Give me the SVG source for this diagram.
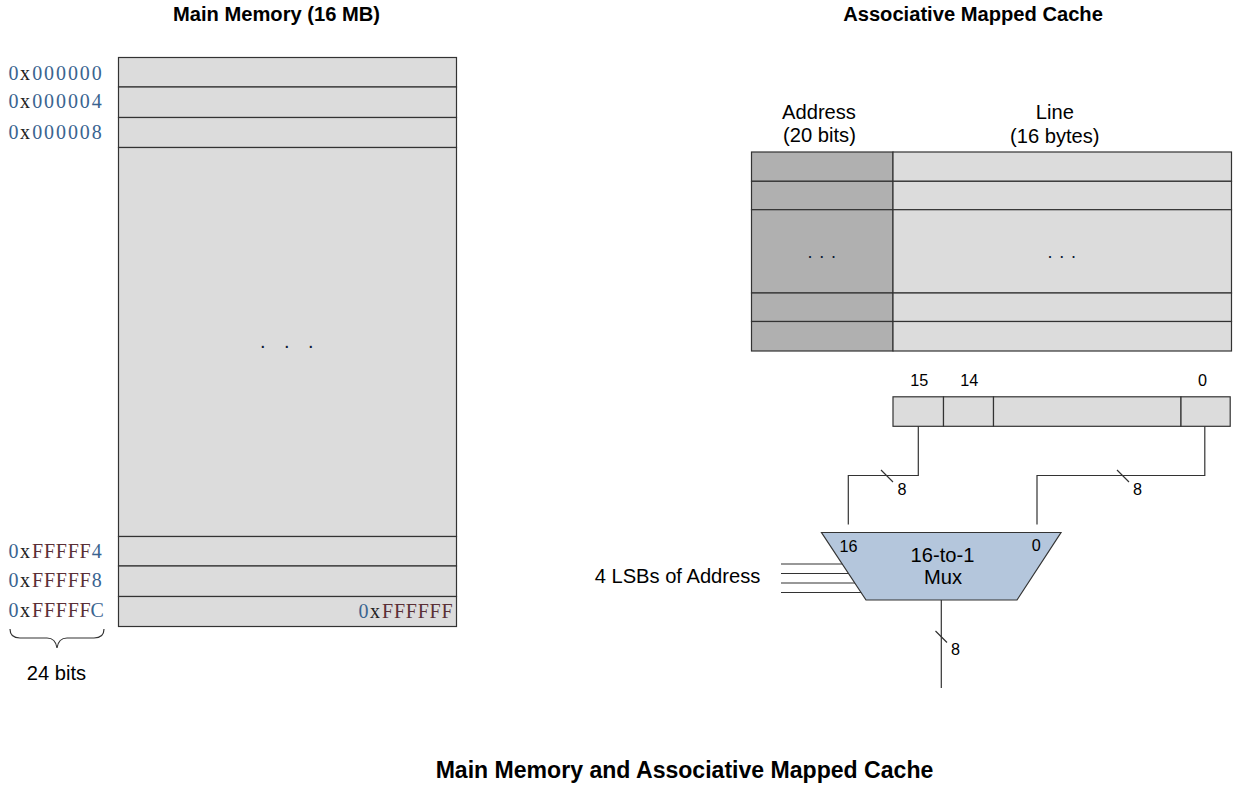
<svg xmlns="http://www.w3.org/2000/svg" width="1235" height="786" viewBox="0 0 1235 786">
<style>
text{font-family:"Liberation Sans",Arial,sans-serif;fill:#000}
.b{font-weight:700;text-anchor:middle}
.t{font-size:20.15px;text-anchor:middle}
.s{font-size:16.2px;text-anchor:middle}
.m{font-family:"Liberation Serif","Times New Roman",serif;font-size:20px;fill:#3a6490}
.f{fill:#5a2f35}
.x{fill:#222}
.dot{fill:#0a1a33}
.l{fill:#dcdcdc;stroke:#333;stroke-width:1.2}
.d{fill:#b0b0b0;stroke:#333;stroke-width:1.2}
.w{fill:none;stroke:#333;stroke-width:1.2}
</style>
<rect width="1235" height="786" fill="#fff"/>
<text class="b" x="276.500" y="21" font-size="20.15">Main Memory (16 MB)</text>
<text class="b" x="973" y="21" font-size="20.15">Associative Mapped Cache</text>
<text class="b" x="684.500" y="778" font-size="23.07">Main Memory and Associative Mapped Cache</text>
<g id="main-memory">
<rect class="l" x="118.500" y="57.500" width="338" height="29.500"/>
<rect class="l" x="118.500" y="87" width="338" height="30.500"/>
<rect class="l" x="118.500" y="117.500" width="338" height="30"/>
<rect class="l" x="118.500" y="147.500" width="338" height="389"/>
<rect class="l" x="118.500" y="536.500" width="338" height="29.500"/>
<rect class="l" x="118.500" y="566" width="338" height="30.500"/>
<rect class="l" x="118.500" y="596.500" width="338" height="30"/>
<text class="dot" x="260" y="348" font-size="20" letter-spacing="18.4">...</text>
<text class="m" y="618"><tspan x="358.400">0</tspan><tspan class="x" x="370">x</tspan><tspan class="f" x="382 393.900 405.800 417.700 429.600 441.500">FFFFFF</tspan></text>
</g>
<g id="addresses">
<text class="m" y="80"><tspan x="8.400">0</tspan><tspan class="x" x="20">x</tspan><tspan x="32.200 44.100 56 67.900 79.800 91.700">000000</tspan></text>
<text class="m" y="108"><tspan x="8.400">0</tspan><tspan class="x" x="20">x</tspan><tspan x="32.200 44.100 56 67.900 79.800 91.700">000004</tspan></text>
<text class="m" y="139"><tspan x="8.400">0</tspan><tspan class="x" x="20">x</tspan><tspan x="32.200 44.100 56 67.900 79.800 91.700">000008</tspan></text>
<text class="m" y="558"><tspan x="8.400">0</tspan><tspan class="x" x="20">x</tspan><tspan class="f" x="32 43.900 55.800 67.700 79.600">FFFFF</tspan><tspan x="91.700">4</tspan></text>
<text class="m" y="587"><tspan x="8.400">0</tspan><tspan class="x" x="20">x</tspan><tspan class="f" x="32 43.900 55.800 67.700 79.600">FFFFF</tspan><tspan x="91.700">8</tspan></text>
<text class="m" y="617"><tspan x="8.400">0</tspan><tspan class="x" x="20">x</tspan><tspan class="f" x="32 43.900 55.800 67.700 79.600">FFFFF</tspan><tspan x="90.600">C</tspan></text>
<path class="w" d="M10 629C10 635 13 638 20 638H47C53 638 56 641 57 648C58 641 61 638 67 638H94C101 638 104 635 104 629"/>
<text class="t" x="56.500" y="680">24 bits</text>
</g>
<g id="cache">
<text class="t" x="819" y="119">Address</text>
<text class="t" x="819.500" y="142">(20 bits)</text>
<text class="t" x="1054.800" y="119">Line</text>
<text class="t" x="1054.800" y="143">(16 bytes)</text>
<rect class="d" x="751.500" y="152" width="141.500" height="29.300"/>
<rect class="d" x="751.500" y="181.300" width="141.500" height="28.400"/>
<rect class="d" x="751.500" y="209.700" width="141.500" height="83.300"/>
<rect class="d" x="751.500" y="293" width="141.500" height="28.500"/>
<rect class="d" x="751.500" y="321.500" width="141.500" height="29.500"/>
<rect class="l" x="893" y="152" width="338.500" height="29.300"/>
<rect class="l" x="893" y="181.300" width="338.500" height="28.400"/>
<rect class="l" x="893" y="209.700" width="338.500" height="83.300"/>
<rect class="l" x="893" y="293" width="338.500" height="28.500"/>
<rect class="l" x="893" y="321.500" width="338.500" height="29.500"/>
<text class="dot" x="807.500" y="258" font-size="18" letter-spacing="6.7">...</text>
<text class="dot" x="1047.500" y="258" font-size="18" letter-spacing="6.7">...</text>
</g>
<g id="line-register">
<text class="s" x="919.300" y="386">15</text>
<text class="s" x="969.300" y="386">14</text>
<text class="s" x="1202.500" y="386">0</text>
<rect class="l" x="893" y="396.800" width="50.500" height="29.500"/>
<rect class="l" x="943.500" y="396.800" width="50" height="29.500"/>
<rect class="l" x="993.500" y="396.800" width="187.500" height="29.500"/>
<rect class="l" x="1181" y="396.800" width="49.200" height="29.500"/>
</g>
<g id="connectors">
<path class="w" d="M918.300 426.300V475.500H848.300V524.500"/>
<path class="w" d="M1204.800 426.300V475.500H1037V524.500"/>
<path class="w" d="M941.300 600V688"/>
<path class="w" d="M881 470L893 482M1117 470L1129 482M935.500 631L947 642.500"/>
<path class="w" d="M781 564H843M781 573.500H849M781 583H855M781 592.500H862"/>
</g>
<g id="mux">
<path d="M821.500 532.500H1061L1017 600H866Z" fill="#b4c6dc" stroke="#333" stroke-width="1.200"/>
<text class="s" x="848.500" y="552">16</text>
<text class="s" x="1036.300" y="551">0</text>
<text class="t" x="942.500" y="562">16-to-1</text>
<text class="t" x="943" y="584">Mux</text>
</g>
<g id="labels">
<text class="s" x="902" y="495">8</text>
<text class="s" x="1137.500" y="495">8</text>
<text class="s" x="955.500" y="655">8</text>
<text class="t" x="677.500" y="583">4 LSBs of Address</text>
</g>
</svg>
